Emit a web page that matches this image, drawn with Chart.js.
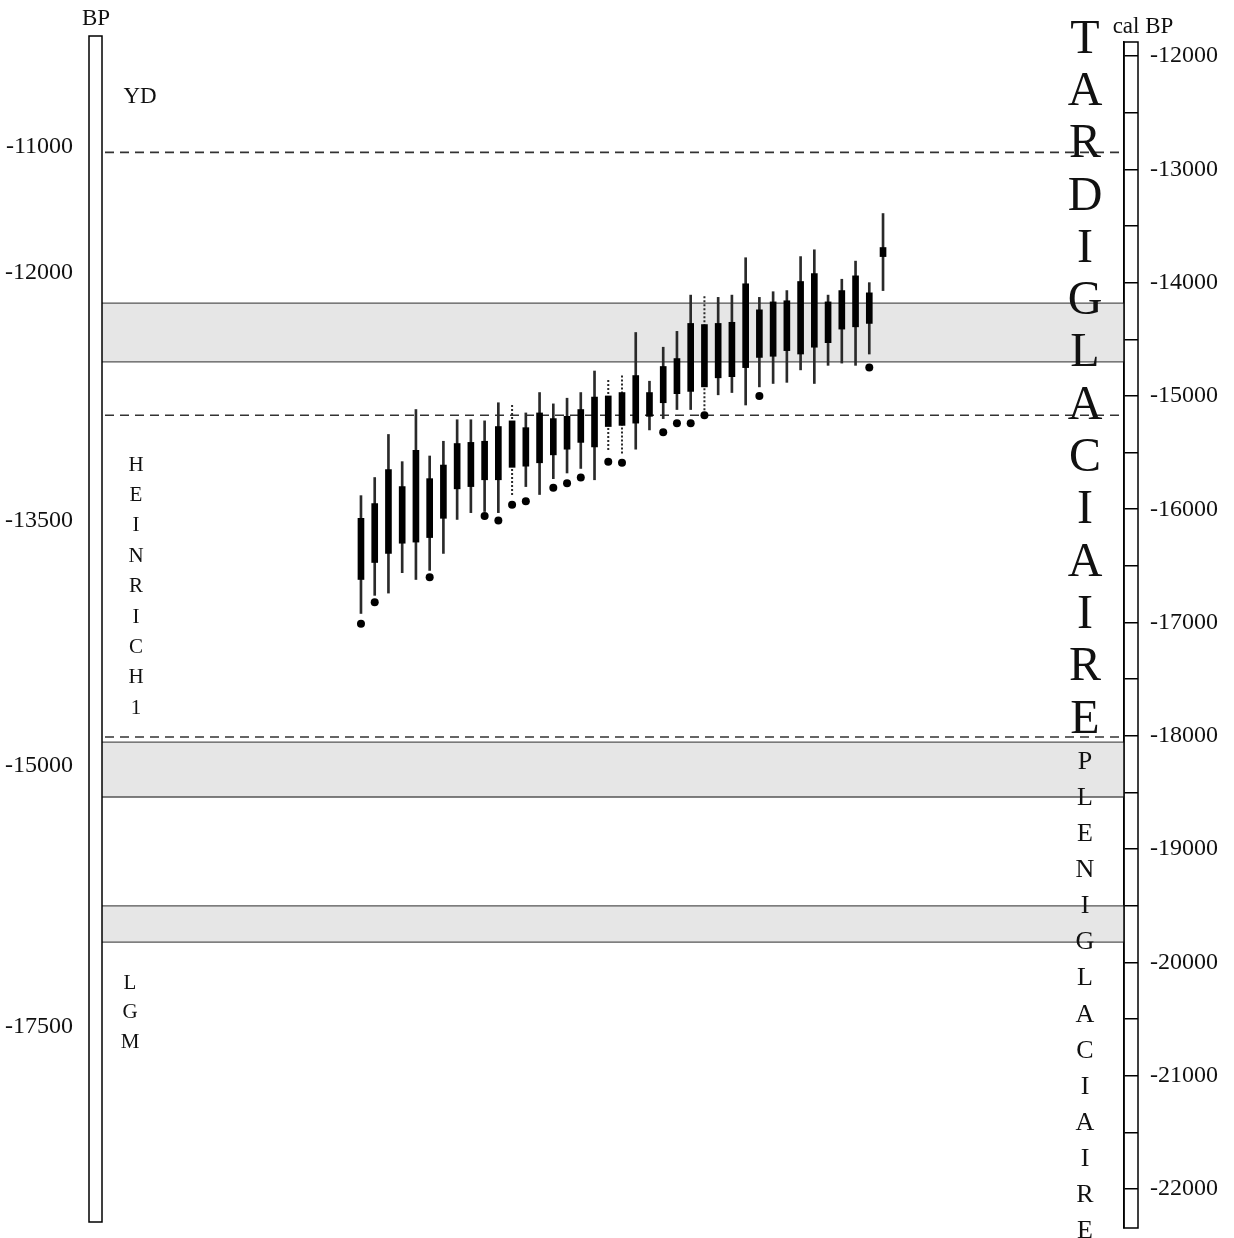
<!DOCTYPE html>
<html lang="fr">
<head>
    <meta charset="UTF-8">
    <title>Dates BP / cal BP</title>
    <script src="https://cdn.jsdelivr.net/npm/chart.js"></script>
    <style>
        html, body {margin: 0; padding: 0; background: #fff;}
        #wrap {width: 1234px; height: 1238px; position: relative;}
    </style>
</head>
<body>
<div id="wrap"><canvas id="datesChart"></canvas></div>
<script>
// --- data (all values in cal BP) ---
const whiskerHigh = [-15880, -15720, -15340, -15580, -15120, -15530, -15400, -15210, -15210, -15220,
                     -15060, -15080, -15150, -14970, -15070, -15020, -14970, -14780, -14860, -14820,
                     -14440, -14870, -14570, -14430, -14110, -14120, -14130, -14110, -13780, -14130,
                     -14080, -14070, -13770, -13710, -14110, -13970, -13810, -14000, -13390];
const boxHigh     = [-16080, -15950, -15650, -15800, -15480, -15730, -15610, -15420, -15410, -15400,
                     -15270, -15220, -15280, -15150, -15200, -15180, -15120, -15010, -15000, -14970,
                     -14820, -14970, -14740, -14670, -14360, -14370, -14360, -14350, -14010, -14240,
                     -14170, -14160, -13990, -13920, -14170, -14070, -13940, -14090, -13690];
const boxLow      = [-16620, -16470, -16390, -16300, -16290, -16250, -16080, -15820, -15800, -15740,
                     -15740, -15630, -15620, -15590, -15520, -15470, -15410, -15450, -15270, -15260,
                     -15240, -15180, -15060, -14980, -14960, -14920, -14840, -14830, -14750, -14660,
                     -14650, -14600, -14630, -14570, -14530, -14410, -14390, -14360, -13770];
const whiskerLow  = [-16920, -16760, -16740, -16560, -16620, -16540, -16390, -16090, -16030, -16020,
                     -16030, -15890, -15800, -15870, -15730, -15680, -15640, -15740, -15480, -15520,
                     -15470, -15300, -15200, -15120, -15120, -15140, -14990, -14970, -15080, -14920,
                     -14890, -14880, -14770, -14890, -14730, -14710, -14730, -14630, -14070];
const lowDots     = [-17010, -16820, null, null, null, -16600, null, null, null, -16060,
                     -16100, -15960, -15930, null, -15810, -15770, -15720, null, -15580, -15590,
                     null, null, -15320, -15240, -15240, -15170, null, null, null, -15000,
                     null, null, null, null, null, null, null, -14750, null];
// samples whose range is drawn dotted
const dottedItems = [11, 18, 19, 25];

// grey bands and dashed limits
const bandTop    = [-14180, -18055, -19500];
const bandBottom = [-14700, -18540, -19820];
const dashedLimits = [-12850, -15170, -18010];

// left axis: uncalibrated BP labels placed at their cal BP position
const bpTickLabels = ['-11000', '-12000', '-13500', '-15000', '-17500'];
const bpTickCal    = [-12800, -13910, -16100, -18260, -20570];

// right axis: cal BP marks every 500, labelled every 1000
const calTicks = [-22000, -21500, -21000, -20500, -20000, -19500, -19000, -18500, -18000, -17500, -17000,
                  -16500, -16000, -15500, -15000, -14500, -14000, -13500, -13000, -12500, -12000];

const calMin = -22344, calMax = -11876;

// x index range so the samples sit in the middle of the frame
const xMin = -18.85, xMax = 55.54;

const serif = "'Liberation Serif', 'DejaVu Serif', serif";
const ink = '#111';

// build datasets
const idx = whiskerHigh.map((_, i) => i);
const solidWhiskers = idx.filter(i => !dottedItems.includes(i))
    .map(i => ({x: i, y: [whiskerLow[i], whiskerHigh[i]]}));
const dottedWhiskers = [];
dottedItems.forEach(i => {
    dottedWhiskers.push({x: i, y: whiskerHigh[i]}, {x: i, y: whiskerLow[i]}, {x: i, y: null});
});
const boxes = idx.map(i => ({x: i, y: [boxLow[i], boxHigh[i]]}));
const dots = idx.filter(i => lowDots[i] !== null).map(i => ({x: i, y: lowDots[i]}));

// keep the tick labels from pushing the chart area in
function fixAxis(width) {
    return s => {
        s.width = width;
        s.paddingTop = 0;
        s.paddingBottom = 0;
    };
}

// draws bands, dashed lines, the two axis frames and the vertical words
const decor = {
    id: 'decor',
    beforeDatasetsDraw(chart) {
        const {ctx, chartArea: a, scales: {y}} = chart;
        ctx.save();
        bandTop.forEach((t, k) => {
            const y1 = y.getPixelForValue(t), y2 = y.getPixelForValue(bandBottom[k]);
            ctx.fillStyle = '#e6e6e6';
            ctx.fillRect(a.left, y1, a.right - a.left, y2 - y1);
            ctx.strokeStyle = '#555';
            ctx.lineWidth = 1.3;
            ctx.beginPath();
            ctx.moveTo(a.left, y1); ctx.lineTo(a.right, y1);
            ctx.moveTo(a.left, y2); ctx.lineTo(a.right, y2);
            ctx.stroke();
        });
        ctx.strokeStyle = '#333';
        ctx.lineWidth = 1.6;
        ctx.setLineDash([9, 6]);
        dashedLimits.forEach(v => {
            const py = y.getPixelForValue(v);
            ctx.beginPath();
            ctx.moveTo(a.left + 3, py); ctx.lineTo(a.right, py);
            ctx.stroke();
        });
        ctx.restore();
    },
    afterDraw(chart) {
        const {ctx, chartArea: a} = chart;
        ctx.save();
        ctx.strokeStyle = '#000';
        ctx.lineWidth = 1.5;
        // left frame (BP) and right frame (cal BP)
        ctx.strokeRect(a.left - 13, a.top - 6, 13, a.bottom - a.top);
        ctx.strokeRect(a.right, a.top, 14, a.bottom - a.top);

        ctx.fillStyle = ink;
        ctx.textAlign = 'center';
        ctx.textBaseline = 'middle';
        ctx.font = '23px ' + serif;
        ctx.fillText('BP', a.left - 6, 19);
        ctx.fillText('cal BP', a.right + 19, 27);
        ctx.fillText('YD', 140, 97);

        const column = (word, x, y0, step, size) => {
            ctx.font = size + 'px ' + serif;
            [...word].forEach((ch, k) => ctx.fillText(ch, x, y0 + k * step));
        };
        column('HEINRICH1', 136, 465, 30.4, 21);
        column('LGM', 130, 983, 29.5, 21);
        column('TARDIGLACIAIRE', a.right - 39, 40, 52.3, 48);
        column('PLENIGLACIAIRE', a.right - 39, 762, 36.1, 26);
        ctx.restore();
    }
};

new Chart(document.getElementById('datesChart').getContext('2d'), {
    type: 'bar',
    data: {
        datasets: [
            {
                type: 'scatter',
                data: dots,
                pointRadius: 4,
                pointBackgroundColor: '#000',
                pointBorderWidth: 0,
                order: 0
            },
            {
                label: 'box',
                data: boxes,
                backgroundColor: '#000',
                barThickness: 6,
                grouped: false,
                borderWidth: 0,
                order: 1
            },
            {
                label: 'range',
                data: solidWhiskers,
                backgroundColor: '#2a2a2a',
                barThickness: 2,
                grouped: false,
                borderWidth: 0,
                order: 2
            },
            {
                type: 'line',
                data: dottedWhiskers,
                borderColor: '#2a2a2a',
                borderWidth: 2,
                borderDash: [2, 2],
                pointRadius: 0,
                spanGaps: false,
                order: 2
            }
        ]
    },
    options: {
        responsive: true,
        maintainAspectRatio: false,
        animation: false,
        layout: {padding: {top: 42, bottom: 10, left: 0, right: 0}},
        plugins: {legend: {display: false}, tooltip: {enabled: false}},
        scales: {
            x: {type: 'linear', display: false, offset: false, min: xMin, max: xMax},
            y: {
                type: 'linear',
                position: 'right',
                min: calMin,
                max: calMax,
                afterBuildTicks: s => { s.ticks = calTicks.map(v => ({value: v})); },
                afterFit: fixAxis(110),
                grid: {drawOnChartArea: false, drawTicks: true, tickLength: 14, color: '#000', lineWidth: 1.5},
                border: {display: true, color: '#000', width: 1.5},
                ticks: {
                    autoSkip: false,
                    padding: 12,
                    color: ink,
                    font: {family: serif, size: 24},
                    callback: v => (v % 1000 === 0 ? String(v) : '')
                }
            },
            y2: {
                type: 'linear',
                position: 'left',
                min: calMin,
                max: calMax,
                afterBuildTicks: s => { s.ticks = bpTickCal.map(v => ({value: v})); },
                afterFit: fixAxis(102),
                grid: {display: false},
                border: {display: false},
                ticks: {
                    autoSkip: false,
                    padding: 21,
                    color: ink,
                    font: {family: serif, size: 24},
                    callback: (v, i) => bpTickLabels[i]
                }
            }
        }
    },
    plugins: [decor]
});
</script>
</body>
</html>
